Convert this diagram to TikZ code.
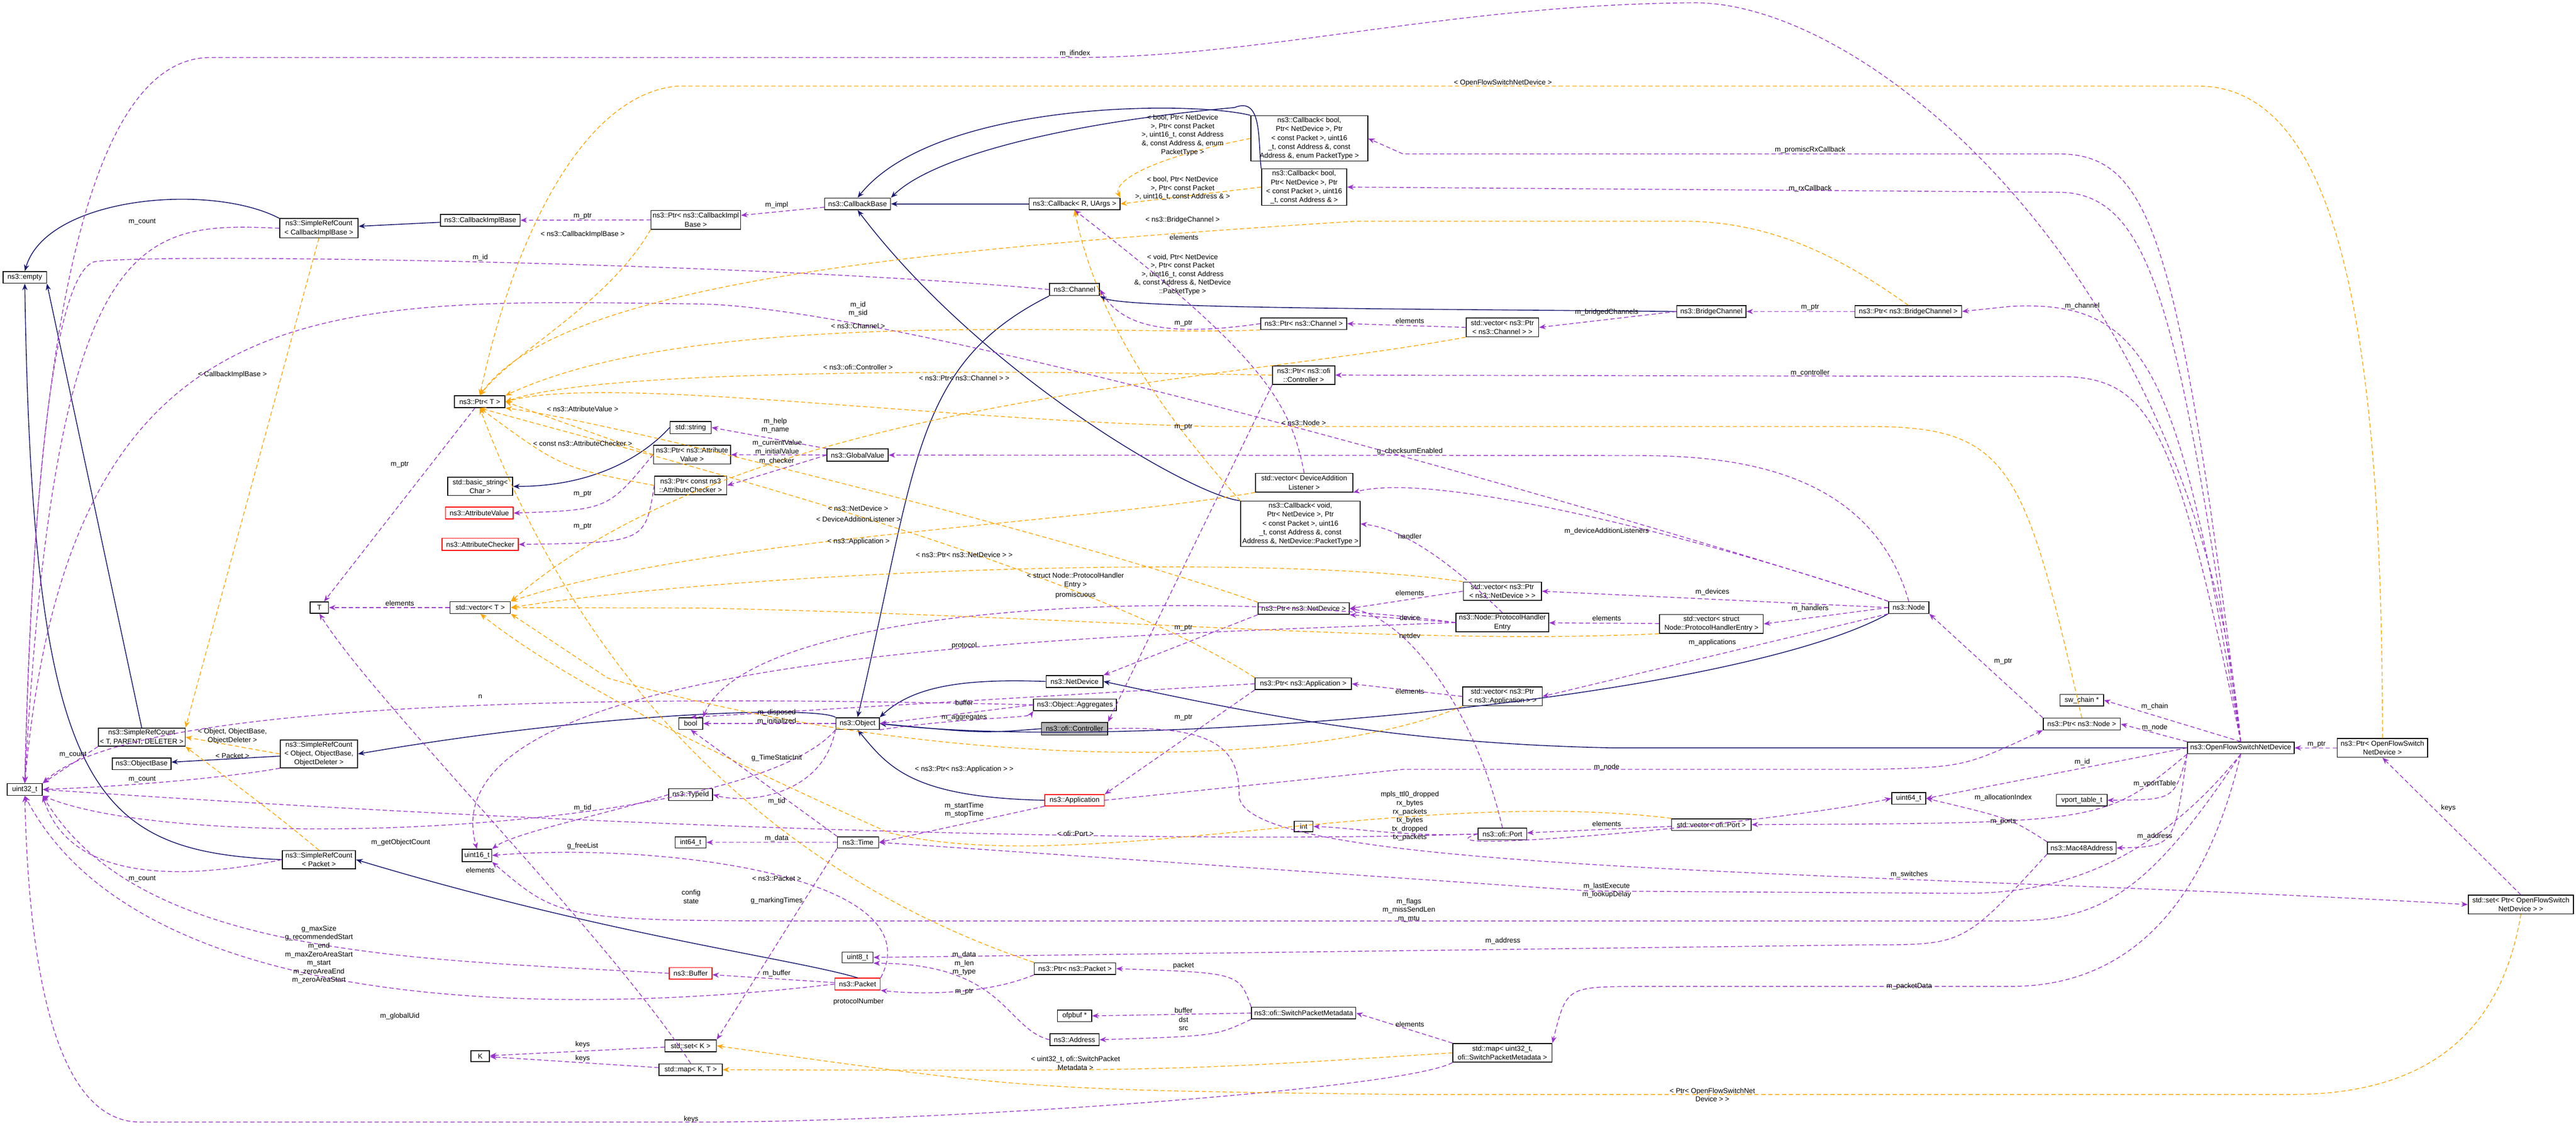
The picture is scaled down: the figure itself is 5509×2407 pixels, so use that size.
\documentclass[tikz,border=0pt]{standalone}
\usepackage{fontspec}
\setmainfont{Liberation Sans}
\usetikzlibrary{arrows.meta}
\definecolor{pur}{RGB}{154,50,205}
\definecolor{org}{RGB}{255,165,0}
\definecolor{nav}{RGB}{25,25,112}
\tikzset{
 box/.style={draw=black,fill=white,line width=0.5pt,inner sep=1pt,align=center,font=\fontsize{4.3}{5.4}\selectfont},
 redbox/.style={box,draw=red},
 lbl/.style={align=center,inner sep=0.5pt,font=\fontsize{4.3}{5.2}\selectfont},
 tip/.style={-{Stealth[length=1.4mm,width=1.1mm]}},
 inh/.style={tip,draw=nav,line width=0.5pt},
 use/.style={tip,draw=pur,line width=0.45pt,dash pattern=on 2.6pt off 1.6pt},
 tpl/.style={tip,draw=org,line width=0.45pt,dash pattern=on 2.6pt off 1.6pt}
}
\begin{document}
\begin{tikzpicture}[x=0.01cm,y=-0.01cm]
\useasboundingbox (0,0) rectangle (5509,2407);
% nodes
\node[box,minimum width=0.93cm,minimum height=0.25cm] (empty) at (53,593) {ns3::empty};
\node[box,minimum width=1.68cm,minimum height=0.41cm] (srcCIB) at (682,488) {ns3::SimpleRefCount\\< CallbackImplBase >};
\node[box,minimum width=1.70cm,minimum height=0.25cm] (cib) at (1027,471) {ns3::CallbackImplBase};
\node[box,minimum width=1.80cm,minimum height=0.40cm] (ptrCIB) at (1488,470) {ns3::Ptr< ns3::CallbackImpl\\Base >};
\node[box,minimum width=1.41cm,minimum height=0.25cm] (cbBase) at (1834,436) {ns3::CallbackBase};
\node[box,minimum width=1.94cm,minimum height=0.25cm] (cbR) at (2298,436) {ns3::Callback< R, UArgs >};
\node[box,minimum width=2.50cm,minimum height=0.83cm] (cbEnum) at (2800,296) {ns3::Callback< bool,\\ Ptr< NetDevice >, Ptr\\< const Packet >, uint16\\\_t, const Address \&, const\\ Address \&, enum PacketType >};
\node[box,minimum width=1.82cm,minimum height=0.69cm] (cbAddr) at (2789,400) {ns3::Callback< bool,\\ Ptr< NetDevice >, Ptr\\< const Packet >, uint16\\\_t, const Address \& >};
\node[box,minimum width=1.07cm,minimum height=0.26cm] (chan) at (2298,619) {ns3::Channel};
\node[box,minimum width=1.84cm,minimum height=0.25cm] (ptrChan) at (2788,692) {ns3::Ptr< ns3::Channel >};
\node[box,minimum width=1.33cm,minimum height=0.40cm] (ptrCtrl) at (2788,802) {ns3::Ptr< ns3::ofi\\::Controller >};
\node[box,minimum width=1.48cm,minimum height=0.25cm] (bc) at (3660,666) {ns3::BridgeChannel};
\node[box,minimum width=2.28cm,minimum height=0.25cm] (ptrBC) at (4081,666) {ns3::Ptr< ns3::BridgeChannel >};
\node[box,minimum width=1.55cm,minimum height=0.40cm] (vecChan) at (3213,700) {std::vector< ns3::Ptr\\< ns3::Channel > >};
\node[box,minimum width=1.08cm,minimum height=0.25cm] (ptrT) at (1026,859) {ns3::Ptr< T >};
\node[box,minimum width=0.88cm,minimum height=0.26cm] (str) at (1477,914) {std::string};
\node[box,minimum width=1.65cm,minimum height=0.40cm] (ptrAV) at (1480,972) {ns3::Ptr< ns3::Attribute\\Value >};
\node[box,minimum width=1.54cm,minimum height=0.40cm] (ptrAC) at (1477,1038) {ns3::Ptr< const ns3\\::AttributeChecker >};
\node[box,minimum width=1.31cm,minimum height=0.26cm] (gv) at (1834,973) {ns3::GlobalValue};
\node[box,minimum width=2.08cm,minimum height=0.40cm] (vecDAL) at (2789,1032) {std::vector< DeviceAddition\\Listener >};
\node[box,minimum width=2.48cm,minimum height=0.84cm] (cbVoid) at (2781,1120) {ns3::Callback< void,\\ Ptr< NetDevice >, Ptr\\< const Packet >, uint16\\\_t, const Address \&, const\\ Address \&, NetDevice::PacketType >};
\node[box,minimum width=1.39cm,minimum height=0.39cm] (bstr) at (1027,1040) {std::basic\_string<\\ Char >};
\node[redbox,minimum width=1.45cm,minimum height=0.25cm] (av) at (1025,1097) {ns3::AttributeValue};
\node[redbox,minimum width=1.63cm,minimum height=0.26cm] (ac) at (1027,1164) {ns3::AttributeChecker};
\node[box,minimum width=0.39cm,minimum height=0.24cm] (T) at (683,1299) {T};
\node[box,minimum width=1.29cm,minimum height=0.25cm] (vecT) at (1027,1299) {std::vector< T >};
\node[box,minimum width=1.85cm,minimum height=0.38cm] (srcTPD) at (303,1576) {ns3::SimpleRefCount\\< T, PARENT, DELETER >};
\node[box,minimum width=1.25cm,minimum height=0.25cm] (objbase) at (303,1633) {ns3::ObjectBase};
\node[box,minimum width=1.65cm,minimum height=0.55cm] (srcObj) at (682,1612) {ns3::SimpleRefCount\\< Object, ObjectBase,\\ ObjectDeleter >};
\node[box,minimum width=0.75cm,minimum height=0.25cm] (u32) at (53,1688) {uint32\_t};
\node[box,minimum width=0.63cm,minimum height=0.26cm] (u16) at (1020,1829) {uint16\_t};
\node[box,minimum width=1.57cm,minimum height=0.39cm] (srcPkt) at (682,1838) {ns3::SimpleRefCount\\< Packet >};
\node[box,minimum width=0.40cm,minimum height=0.23cm] (K) at (1027,2258) {K};
\node[box,minimum width=1.95cm,minimum height=0.25cm] (ptrND) at (2788,1301) {ns3::Ptr< ns3::NetDevice >};
\node[box,minimum width=1.22cm,minimum height=0.25cm] (nd) at (2298,1457) {ns3::NetDevice};
\node[box,minimum width=1.77cm,minimum height=0.25cm] (agg) at (2299,1507) {ns3::Object::Aggregates};
\node[box,fill=gray!60,minimum width=1.41cm,minimum height=0.27cm] (ctrl) at (2298,1558) {ns3::ofi::Controller};
\node[box,minimum width=0.93cm,minimum height=0.25cm] (obj) at (1834,1547) {ns3::Object};
\node[box,minimum width=0.51cm,minimum height=0.25cm] (bool) at (1477,1547) {bool};
\node[box,minimum width=2.06cm,minimum height=0.25cm] (ptrApp) at (2787,1462) {ns3::Ptr< ns3::Application >};
\node[redbox,minimum width=1.27cm,minimum height=0.24cm] (app) at (2298,1711) {ns3::Application};
\node[box,minimum width=0.94cm,minimum height=0.25cm] (tid) at (1477,1699) {ns3::TypeId};
\node[box,minimum width=0.66cm,minimum height=0.24cm] (i64) at (1477,1801) {int64\_t};
\node[box,minimum width=0.88cm,minimum height=0.24cm] (time) at (1835,1801) {ns3::Time};
\node[box,minimum width=0.40cm,minimum height=0.23cm] (int) at (2788,1767) {int};
\node[box,minimum width=0.66cm,minimum height=0.23cm] (u8) at (1834,2047) {uint8\_t};
\node[redbox,minimum width=0.91cm,minimum height=0.25cm] (buf) at (1477,2081) {ns3::Buffer};
\node[redbox,minimum width=0.97cm,minimum height=0.25cm] (pkt) at (1834,2104) {ns3::Packet};
\node[box,minimum width=1.74cm,minimum height=0.25cm] (ptrPkt) at (2299,2071) {ns3::Ptr< ns3::Packet >};
\node[box,minimum width=0.73cm,minimum height=0.25cm] (ofp) at (2298,2172) {ofpbuf *};
\node[box,minimum width=1.05cm,minimum height=0.25cm] (addr) at (2298,2223) {ns3::Address};
\node[box,minimum width=2.23cm,minimum height=0.25cm] (spm) at (2788,2166) {ns3::ofi::SwitchPacketMetadata};
\node[box,minimum width=1.10cm,minimum height=0.25cm] (setK) at (1477,2236) {std::set< K >};
\node[box,minimum width=1.35cm,minimum height=0.25cm] (mapKT) at (1477,2287) {std::map< K, T >};
\node[box,minimum width=1.67cm,minimum height=0.39cm] (vecND) at (3213,1264) {std::vector< ns3::Ptr\\< ns3::NetDevice > >};
\node[box,minimum width=1.98cm,minimum height=0.39cm] (phe) at (3213,1331) {ns3::Node::ProtocolHandler\\Entry};
\node[box,minimum width=2.22cm,minimum height=0.40cm] (vecPHE) at (3660,1334) {std::vector< struct\\ Node::ProtocolHandlerEntry >};
\node[box,minimum width=0.86cm,minimum height=0.25cm] (node) at (4082,1299) {ns3::Node};
\node[box,minimum width=1.70cm,minimum height=0.39cm] (vecApp) at (3213,1489) {std::vector< ns3::Ptr\\< ns3::Application > >};
\node[box,minimum width=1.04cm,minimum height=0.25cm] (port) at (3213,1783) {ns3::ofi::Port};
\node[box,minimum width=1.70cm,minimum height=0.25cm] (vecPort) at (3660,1763) {std::vector< ofi::Port >};
\node[box,minimum width=0.73cm,minimum height=0.25cm] (u64) at (4082,1707) {uint64\_t};
\node[box,minimum width=2.12cm,minimum height=0.40cm] (mapSPM) at (3213,2251) {std::map< uint32\_t,\\ ofi::SwitchPacketMetadata >};
\node[box,minimum width=0.93cm,minimum height=0.25cm] (chain) at (4452,1497) {sw\_chain *};
\node[box,minimum width=1.65cm,minimum height=0.25cm] (ptrNode) at (4452,1548) {ns3::Ptr< ns3::Node >};
\node[box,minimum width=2.28cm,minimum height=0.25cm] (ofsnd) at (4792,1599) {ns3::OpenFlowSwitchNetDevice};
\node[box,minimum width=1.93cm,minimum height=0.40cm] (ptrOF) at (5095,1599) {ns3::Ptr< OpenFlowSwitch\\NetDevice >};
\node[box,minimum width=1.08cm,minimum height=0.25cm] (vport) at (4452,1711) {vport\_table\_t};
\node[box,minimum width=1.47cm,minimum height=0.25cm] (mac) at (4452,1813) {ns3::Mac48Address};
\node[box,minimum width=2.25cm,minimum height=0.40cm] (setOF) at (5391,1934) {std::set< Ptr< OpenFlowSwitch\\NetDevice > >};

% inheritance
\draw[inh] (srcCIB.north west) .. controls (450,390) and (100,420) .. (empty.north);
\draw[inh] (cib) -- (srcCIB);
\draw[inh] (cbR) -- (cbBase);
\draw[inh] (cbEnum.north west) .. controls (2550,215) and (2000,215) .. (cbBase.north);
\draw[inh] (cbAddr.north west) .. controls (2690,300) and (2700,205) .. (2640,230) .. controls (2300,260) and (2000,330) .. (cbBase.north east);
\draw[inh] (cbVoid.north west) .. controls (2550,1060) and (2100,800) .. (cbBase.south);
\draw[inh] (str.west) .. controls (1400,950) and (1300,1040) .. (bstr.east);
\draw[inh] (srcTPD.north) -- (empty.south east);
\draw[inh] (srcPkt.west) .. controls (200,1820) and (70,1700) .. (empty.south);
\draw[inh] (srcObj) -- (objbase);
\draw[inh] (obj.north west) .. controls (1750,1510) and (1300,1520) .. (srcObj.east);
\draw[inh] (chan.south west) .. controls (1950,780) and (1960,1000) .. (obj.north);
\draw[inh] (nd.west) .. controls (2050,1450) and (1950,1470) .. (obj.north east);
\draw[inh] (ctrl.west) .. controls (2100,1568) .. (obj.east);
\draw[inh] (app.west) .. controls (1950,1705) and (1900,1640) .. (obj.south);
\draw[inh] (node.south west) .. controls (3700,1500) and (2400,1610) .. (obj.east);
\draw[inh] (ofsnd.west) -- (3450,1599) .. controls (3000,1590) and (2700,1530) .. (nd.east);
\draw[inh] (bc.west) .. controls (3000,660) and (2400,660) .. (chan.south east);
\draw[inh] (pkt.north) .. controls (1700,2050) and (1300,2000) .. (srcPkt.east);

% usage
\draw[use] (srcCIB.west) .. controls (300,475) and (120,480) .. (u32.north);
\draw[use] (ptrCIB) -- (cib);
\draw[use] (cbBase) -- (ptrCIB);
\draw[use] (chan.west) .. controls (1600,560) and (300,540) .. (200,560) .. controls (100,600) and (65,1200) .. (u32.north);
\draw[use] (ofsnd.north) .. controls (4700,600) and (4000,0) .. (3619,6) .. controls (3100,10) and (2700,123) .. (2300,123) -- (450,123) .. controls (150,123) and (70,900) .. (u32.north);
\draw[use] (ptrT) -- (T);
\draw[use] (vecT) -- (T);
\draw[use] (ptrAV.west) .. controls (1300,1090) .. (av.east);
\draw[use] (ptrAC.west) .. controls (1380,1160) .. (ac.east);
\draw[use] (gv.north west) -- (str.east);
\draw[use] (gv) -- (ptrAV);
\draw[use] (gv.west) -- (ptrAC.east);
\draw[use] (node.north) .. controls (4000,1000) and (3700,974) .. (3500,974) -- (gv.east);
\draw[use] (obj.south west) .. controls (1760,1700) and (1600,1720) .. (tid.east);
\draw[use] (tid.west) .. controls (1300,1740) and (1100,1780) .. (u16.north east);
\draw[use] (obj) -- (bool);
\draw[use] (agg.west) -- (obj.east);
\draw[use] (obj.south east) .. controls (2050,1535) and (2200,1535) .. (agg.south west);
\draw[use] (ptrChan.west) .. controls (2500,720) and (2400,700) .. (chan.east);
\draw[use] (vecChan.west) -- (ptrChan.east);
\draw[use] (bc.west) -- (vecChan.east);
\draw[use] (ptrBC) -- (bc);
\draw[use] (ofsnd.north) .. controls (4660,800) and (4600,640) .. (4300,655) -- (ptrBC.east);
\draw[use] (ofsnd.north) .. controls (4660,500) and (4600,329) .. (4400,329) -- (3000,329) -- (cbEnum.east);
\draw[use] (ofsnd.north) .. controls (4660,650) and (4600,411) .. (4400,411) -- (cbAddr.east);
\draw[use] (ofsnd.north) .. controls (4650,900) and (4600,805) .. (4400,805) -- (ptrCtrl.east);
\draw[use] (ptrCtrl.south west) -- (ctrl.north east);
\draw[use] (node.north west) .. controls (3800,1200) and (3100,1000) .. (vecDAL.south east);
\draw[use] (vecDAL.north) .. controls (2760,860) and (2700,760) .. (cbR.south);
\draw[use] (phe.north) .. controls (3100,1200) and (3000,1130) .. (cbVoid.east);
\draw[use] (phe.west) -- (ptrND.south east);
\draw[use] (port.north) .. controls (3150,1500) and (3000,1320) .. (ptrND.east);
\draw[use] (phe.west) .. controls (2500,1250) and (1600,1300) .. (bool.north east);
\draw[use] (phe.west) .. controls (2400,1360) and (900,1380) .. (u16.north);
\draw[use] (vecND.west) -- (ptrND.east);
\draw[use] (node.west) -- (vecND.east);
\draw[use] (vecPHE) -- (phe);
\draw[use] (node.west) -- (vecPHE.east);
\draw[use] (node.south west) -- (vecApp.east);
\draw[use] (vecApp.west) -- (ptrApp.east);
\draw[use] (ptrApp.south west) -- (app.north east);
\draw[use] (ptrND.south west) -- (nd.north east);
\draw[use] (ptrNode.north west) -- (node.south east);
\draw[use] (ofsnd.north west) -- (ptrNode.east);
\draw[use] (app.east) -- (3000,1645) -- (4000,1645) .. controls (4200,1640) .. (ptrNode.south west);
\draw[use] (app.south west) -- (time.east);
\draw[use] (time) -- (i64);
\draw[use] (time.north west) -- (bool.south);
\draw[use] (time.south west) -- (setK.north east);
\draw[use] (port.west) .. controls (2700,1800) and (1600,1790) .. (u32.east);
\draw[use] (port.west) .. controls (3000,1830) and (3800,1760) .. (u64.west);
\draw[use] (ofsnd.west) -- (u64.east);
\draw[use] (mac.north west) .. controls (4300,1750) .. (u64.east);
\draw[use] (ofsnd.south west) .. controls (4500,1760) .. (vecPort.east);
\draw[use] (vecPort) -- (port);
\draw[use] (ofsnd.south west) .. controls (4650,1710) .. (vport.east);
\draw[use] (ofsnd.north) -- (chain.east);
\draw[use] (ofsnd.south west) .. controls (4650,1810) .. (mac.east);
\draw[use] (ofsnd.south) .. controls (4600,1850) and (4400,1910) .. (4200,1910) -- (3400,1905) -- (time.east);
\draw[use] (ofsnd.south) .. controls (4600,1900) and (4500,1969) .. (4300,1969) -- (1800,1969) .. controls (1200,1969) .. (u16.south east);
\draw[use] (mac.south west) .. controls (4200,2020) .. (4000,2020) -- (u8.east);
\draw[use] (ofsnd.south) .. controls (4700,2000) and (4500,2109) .. (4300,2109) -- (3500,2109) .. controls (3350,2110) .. (mapSPM.north east);
\draw[use] (mapSPM.north west) -- (spm.east);
\draw[use] (mapSPM.south west) .. controls (3000,2330) and (2000,2399) .. (1500,2399) -- (300,2399) .. controls (100,2399) and (60,2000) .. (u32.south);
\draw[use] (setOF.north) -- (ptrOF.south);
\draw[use] (ptrOF) -- (ofsnd);
\draw[use] (setK) -- (K);
\draw[use] (mapKT) -- (K);
\draw[use] (mapKT.north) .. controls (1300,2000) and (800,1500) .. (T.south);
\draw[use] (spm.north west) .. controls (2650,2080) .. (ptrPkt.east);
\draw[use] (spm.west) -- (ofp.east);
\draw[use] (spm.south west) .. controls (2600,2215) .. (addr.east);
\draw[use] (addr.west) .. controls (2150,2200) and (2150,2060) .. (u8.south east);
\draw[use] (ptrPkt.south west) .. controls (2100,2130) and (1950,2125) .. (pkt.south east);
\draw[use] (pkt) -- (buf);
\draw[use] (buf.west) .. controls (900,2050) and (300,2050) .. (u32.south east);
\draw[use] (pkt.west) .. controls (1200,2173) and (300,2173) .. (u32.south);
\draw[use] (srcPkt.west) .. controls (400,1880) and (150,1890) .. (u32.south east);
\draw[use] (srcTPD.south west) -- (u32.north east);
\draw[use] (srcObj.south west) .. controls (500,1660) and (300,1680) .. (u32.east);
\draw[use] (obj.south west) .. controls (1600,1780) and (400,1830) .. (u32.south east);
\draw[use] (agg.west) .. controls (1500,1490) and (300,1480) .. (u32.north east);
\draw[use] (ptrApp.west) -- (bool.north);
\draw[use] (pkt.north east) .. controls (2000,1870) and (1400,1800) .. (u16.east);
\draw[use] (node.north west) .. controls (3800,1200) and (2000,660) .. (1500,650) .. controls (700,640) and (150,600) .. (u32.north);
\draw[use] (ctrl.east) .. controls (2600,1550) and (2650,1600) .. (2650,1700) .. controls (2650,1870) and (4000,1860) .. (setOF.west);
\draw[use] (port.west) .. controls (3000,1790) and (2900,1770) .. (int.east);

% template
\draw[tpl] (srcCIB.south) -- (srcTPD.north east);
\draw[tpl] (srcObj.west) -- (srcTPD.east);
\draw[tpl] (srcPkt.north) .. controls (600,1750) .. (srcTPD.south east);
\draw[tpl] (ptrCIB.south west) .. controls (1300,650) and (1100,750) .. (ptrT.north);
\draw[tpl] (ptrAV.west) -- (ptrT.east);
\draw[tpl] (ptrAC.west) .. controls (1200,1000) .. (ptrT.south);
\draw[tpl] (ptrChan.south west) .. controls (2400,720) and (1500,650) .. (ptrT.north east);
\draw[tpl] (ptrCtrl.west) .. controls (2300,795) and (1300,780) .. (ptrT.east);
\draw[tpl] (ptrNode.north) .. controls (4330,1000) and (4300,912) .. (4000,912) -- (2600,912) .. controls (2000,900) and (1300,800) .. (ptrT.east);
\draw[tpl] (ptrND.north west) .. controls (2300,1150) and (1300,900) .. (ptrT.south east);
\draw[tpl] (ptrApp.north west) .. controls (2300,1200) and (1300,950) .. (ptrT.south);
\draw[tpl] (ptrBC.north) .. controls (3950,560) and (3800,473) .. (3600,473) -- (2900,473) .. controls (2000,530) and (1200,600) .. (ptrT.north);
\draw[tpl] (ptrOF.north) .. controls (5095,700) and (5000,184) .. (4700,184) -- (1450,184) .. controls (1250,200) and (1100,500) .. (ptrT.north);
\draw[tpl] (ptrPkt.north west) .. controls (1800,1920) and (1300,1600) .. (ptrT.south);
\draw[tpl] (cbEnum.west) .. controls (2450,340) and (2380,390) .. (cbR.north east);
\draw[tpl] (cbAddr.west) -- (cbR.east);
\draw[tpl] (cbVoid.north west) .. controls (2500,900) and (2350,700) .. (cbR.south);
\draw[tpl] (vecChan.south west) .. controls (2600,820) and (1600,850) .. (vecT.north east);
\draw[tpl] (vecDAL.south west) .. controls (2300,1120) and (1500,1150) .. (vecT.north east);
\draw[tpl] (vecND.north west) .. controls (2700,1180) and (1600,1220) .. (vecT.east);
\draw[tpl] (vecPHE.south west) .. controls (3000,1380) and (2400,1320) .. (1500,1300) -- (vecT.east);
\draw[tpl] (vecApp.south west) .. controls (2800,1650) and (2000,1650) .. (1300,1450) -- (vecT.south east);
\draw[tpl] (vecPort.north west) .. controls (3000,1680) and (2300,1880) .. (1900,1780) .. controls (1500,1600) and (1200,1450) .. (vecT.south);
\draw[tpl] (mapSPM.west) .. controls (2500,2290) .. (mapKT.east);
\draw[tpl] (setOF.south) .. controls (5350,2200) and (5200,2340) .. (4900,2340) -- (3000,2340) .. controls (2200,2330) .. (setK.east);

% labels
\node[lbl] at (304,474) {m\_count};
\node[lbl] at (1246,462) {m\_ptr};
\node[lbl] at (1661,438) {m\_impl};
\node[lbl] at (1027,551) {m\_id};
\node[lbl] at (2299,115) {m\_ifindex};
\node[lbl] at (3214,177) {< OpenFlowSwitchNetDevice >};
\node[lbl] at (497,801) {< CallbackImplBase >};
\node[lbl] at (1246,501) {< ns3::CallbackImplBase >};
\node[lbl] at (1246,874) {< ns3::AttributeValue >};
\node[lbl] at (1246,948) {< const ns3::AttributeChecker >};
\node[lbl] at (855,993) {m\_ptr};
\node[lbl] at (2529,289) {< bool, Ptr< NetDevice\\ >, Ptr< const Packet\\ >, uint16\_t, const Address\\ \&, const Address \&, enum\\ PacketType >};
\node[lbl] at (2529,403) {< bool, Ptr< NetDevice\\ >, Ptr< const Packet\\ >, uint16\_t, const Address \& >};
\node[lbl] at (2529,470) {< ns3::BridgeChannel >};
\node[lbl] at (2532,508) {elements};
\node[lbl] at (2529,587) {< void, Ptr< NetDevice\\ >, Ptr< const Packet\\ >, uint16\_t, const Address\\ \&, const Address \&, NetDevice\\ ::PacketType >};
\node[lbl] at (1835,661) {m\_id\\m\_sid};
\node[lbl] at (1835,697) {< ns3::Channel >};
\node[lbl] at (2531,691) {m\_ptr};
\node[lbl] at (1835,785) {< ns3::ofi::Controller >};
\node[lbl] at (2062,808) {< ns3::Ptr< ns3::Channel > >};
\node[lbl] at (2788,904) {< ns3::Node >};
\node[lbl] at (2531,913) {m\_ptr};
\node[lbl] at (1658,910) {m\_help\\m\_name};
\node[lbl] at (1662,957) {m\_currentValue\\m\_initialValue};
\node[lbl] at (1661,986) {m\_checker};
\node[lbl] at (1835,1087) {< ns3::NetDevice >};
\node[lbl] at (3871,321) {m\_promiscRxCallback};
\node[lbl] at (3871,403) {m\_rxCallback};
\node[lbl] at (3436,668) {m\_bridgedChannels};
\node[lbl] at (3015,686) {elements};
\node[lbl] at (3871,657) {m\_ptr};
\node[lbl] at (3871,798) {m\_controller};
\node[lbl] at (3015,965) {g\_checksumEnabled};
\node[lbl] at (4453,654) {m\_channel};
\node[lbl] at (855,1290) {elements};
\node[lbl] at (1246,1056) {m\_ptr};
\node[lbl] at (1246,1126) {m\_ptr};
\node[lbl] at (1027,1489) {n};
\node[lbl] at (497,1574) {< Object, ObjectBase,\\ ObjectDeleter >};
\node[lbl] at (497,1616) {< Packet >};
\node[lbl] at (156,1613) {m\_count};
\node[lbl] at (304,1666) {m\_count};
\node[lbl] at (1246,1728) {m\_tid};
\node[lbl] at (857,1801) {m\_getObjectCount};
\node[lbl] at (1246,1809) {g\_freeList};
\node[lbl] at (1027,1861) {elements};
\node[lbl] at (304,1879) {m\_count};
\node[lbl] at (682,2041) {g\_maxSize\\g\_recommendedStart\\m\_end\\m\_maxZeroAreaStart\\m\_start\\m\_zeroAreaEnd\\m\_zeroAreaStart};
\node[lbl] at (855,2173) {m\_globalUid};
\node[lbl] at (1246,2233) {keys};
\node[lbl] at (1246,2263) {keys};
\node[lbl] at (1836,1110) {< DeviceAdditionListener >};
\node[lbl] at (1836,1158) {< ns3::Application >};
\node[lbl] at (2062,1186) {< ns3::Ptr< ns3::NetDevice > >};
\node[lbl] at (2300,1241) {< struct Node::ProtocolHandler\\Entry >};
\node[lbl] at (2300,1273) {promiscuous};
\node[lbl] at (2531,1342) {m\_ptr};
\node[lbl] at (2062,1380) {protocol};
\node[lbl] at (2062,1502) {buffer};
\node[lbl] at (1661,1533) {m\_disposed\\m\_initialized};
\node[lbl] at (2062,1534) {m\_aggregates};
\node[lbl] at (2531,1534) {m\_ptr};
\node[lbl] at (1661,1621) {g\_TimeStaticInit};
\node[lbl] at (2062,1645) {< ns3::Ptr< ns3::Application > >};
\node[lbl] at (1661,1713) {m\_tid};
\node[lbl] at (2062,1732) {m\_startTime\\m\_stopTime};
\node[lbl] at (2300,1782) {< ofi::Port >};
\node[lbl] at (1661,1793) {m\_data};
\node[lbl] at (1661,1878) {< ns3::Packet >};
\node[lbl] at (1478,1917) {config\\state};
\node[lbl] at (1661,1926) {g\_markingTimes};
\node[lbl] at (2062,2060) {m\_data\\m\_len\\m\_type};
\node[lbl] at (2531,2065) {packet};
\node[lbl] at (1661,2081) {m\_buffer};
\node[lbl] at (2062,2120) {m\_ptr};
\node[lbl] at (1836,2142) {protocolNumber};
\node[lbl] at (2531,2160) {buffer};
\node[lbl] at (2531,2189) {dst\\src};
\node[lbl] at (2300,2273) {< uint32\_t, ofi::SwitchPacket\\Metadata >};
\node[lbl] at (1478,2393) {keys};
\node[lbl] at (3015,1146) {handler};
\node[lbl] at (3436,1136) {m\_deviceAdditionListeners};
\node[lbl] at (3015,1268) {elements};
\node[lbl] at (3662,1266) {m\_devices};
\node[lbl] at (3871,1301) {m\_handlers};
\node[lbl] at (3015,1321) {device};
\node[lbl] at (3436,1322) {elements};
\node[lbl] at (3015,1359) {netdev};
\node[lbl] at (3662,1374) {m\_applications};
\node[lbl] at (3015,1478) {elements};
\node[lbl] at (4284,1414) {m\_ptr};
\node[lbl] at (3436,1641) {m\_node};
\node[lbl] at (3015,1745) {mpls\_ttl0\_dropped\\rx\_bytes\\rx\_packets\\tx\_bytes\\tx\_dropped\\tx\_packets};
\node[lbl] at (3436,1761) {elements};
\node[lbl] at (4284,1705) {m\_allocationIndex};
\node[lbl] at (4284,1757) {m\_ports};
\node[lbl] at (4083,1870) {m\_switches};
\node[lbl] at (3436,1904) {m\_lastExecute\\m\_lookupDelay};
\node[lbl] at (3013,1946) {m\_flags\\m\_missSendLen\\m\_mtu};
\node[lbl] at (3214,2012) {m\_address};
\node[lbl] at (4083,2109) {m\_packetData};
\node[lbl] at (3015,2190) {elements};
\node[lbl] at (3662,2341) {< Ptr< OpenFlowSwitchNet\\Device > >};
\node[lbl] at (4608,1510) {m\_chain};
\node[lbl] at (4608,1556) {m\_node};
\node[lbl] at (4954,1591) {m\_ptr};
\node[lbl] at (4453,1629) {m\_id};
\node[lbl] at (4608,1676) {m\_vportTable};
\node[lbl] at (4608,1788) {m\_address};
\node[lbl] at (5236,1728) {keys};
\end{tikzpicture}
\end{document}
